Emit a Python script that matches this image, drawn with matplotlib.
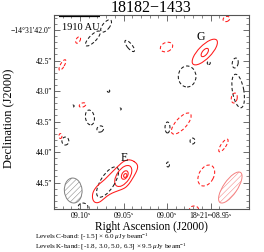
import numpy as np
import matplotlib
matplotlib.use("Agg")
import matplotlib.pyplot as plt
from matplotlib.patches import Ellipse

plt.rcParams['font.family'] = ['Liberation Serif', 'DejaVu Serif']
plt.rcParams['mathtext.fontset'] = 'custom'
plt.rcParams['mathtext.rm'] = 'Liberation Serif'
plt.rcParams['mathtext.it'] = 'Liberation Serif:italic'
plt.rcParams['hatch.linewidth'] = 0.35

# ---------------- data ----------------
title = "18182\u22121433"
dec_deg = -14.5256
ra_ticks_s = [9.10, 9.05, 9.00, 8.95]
ra_tick_labels = [r"09.10$^{\rm s}$", r"09.05$^{\rm s}$", r"09.00$^{\rm s}$",
                  r"18$^{\rm h}$21$^{\rm m}$08.95$^{\rm s}$"]
dec_ticks_off = [0.0, -0.5, -1.0, -1.5, -2.0, -2.5]   # arcsec offset from 42.0"
dec_tick_labels = ["\u221214\u00b031\u203242.0\u2033", "42.5\u2033", "43.0\u2033",
                   "43.5\u2033", "44.0\u2033", "44.5\u2033"]

# Ellipse-shaped contours: x, y (arcsec offsets), width, height, angle, band
# band "C" = C-band negative (-1.5 sigma, black dashed)
# band "Kn" = K-band negative (-1.8 sigma, red dashed), "Kp" = K-band positive (red solid)
ell_x = [0.434, 0.213, -0.033, 0.828, 1.443, 2.443, 2.082, 2.082, 2.148, 1.787,
         2.590, 2.639, 2.574, 1.689, 1.459, 1.877, 2.393, -0.295, 0.475, -0.115,
         0.041, 0.164, 0.336, -0.328, -0.246, 0.672, 0.721, 0.746, 0.754, 0.459,
         2.107, 1.467, 1.902, 0.049]
ell_y = [0.066, -0.139, -0.164, -0.262, -0.279, 0.180, -0.361, -0.369, -0.541, -0.762,
         -0.541, -1.000, -1.115, -1.533, -1.598, -1.820, -1.893, -0.574, -1.000, -1.246,
         -1.230, -1.434, -1.623, -1.738, -1.820, -1.295, -2.393, -2.377, -2.385, -2.492,
         -2.385, -2.205, -2.934, -2.902]
ell_w = [0.246, 0.328, 0.115, 0.230, 0.213, 0.115, 0.557, 0.164, 0.05, 0.295,
         0.164, 0.557, 0.164, 0.443, 0.082, 0.082, 0.246, 0.197, 0.04, 0.03,
         0.115, 0.148, 0.115, 0.05, 0.115, 0.03, 0.393, 0.150, 0.066, 0.574,
         0.369, 0.05, 0.148, 0.164]
ell_h = [0.115, 0.115, 0.066, 0.082, 0.148, 0.082, 0.213, 0.082, 0.05, 0.344,
         0.098, 0.190, 0.098, 0.180, 0.180, 0.098, 0.082, 0.066, 0.04, 0.03,
         0.066, 0.246, 0.098, 0.08, 0.131, 0.03, 0.213, 0.098, 0.05, 0.230,
         0.246, 0.08, 0.098, 0.131]
ell_ang = [50, 45, 60, -50, 20, 20, 45, 50, 0, 0,
           80, 100, 80, 47, 0, 0, 55, 60, 0, 0,
           20, 10, 30, 0, 0, 0, 55, 60, 60, 57,
           61, 0, 0, 0]
ell_band = ["C", "C", "Kn", "C", "Kn", "Kn", "Kp", "Kp", "C", "C",
            "C", "C", "Kn", "Kn", "C", "C", "Kn", "Kn", "C", "C",
            "Kn", "C", "C", "Kn", "C", "C", "Kp", "Kp", "Kp", "C",
            "Kn", "C", "Kn", "C"]

# Outer 3-sigma K-band contour of source E (arcsec offsets)
e_outer_x = [0.951, 0.841, 0.733, 0.623, 0.513, 0.405, 0.295, 0.213, 0.202, 0.241,
             0.323, 0.431, 0.541, 0.677, 0.787, 0.897, 0.967]
e_outer_y = [-2.185, -2.120, -2.143, -2.241, -2.349, -2.459, -2.541, -2.651, -2.759, -2.831,
             -2.831, -2.733, -2.667, -2.623, -2.569, -2.405, -2.267]

# Beams: x, y, width, height, angle
beam_c = (-0.115, -2.631, 0.295, 0.410, 5)
beam_k = (2.508, -2.582, 0.60, 0.23, 55)

labels_txt = ["G", "E"]
labels_x = [2.016, 0.738]
labels_y = [-0.115, -2.10]

scalebar_len = 0.69   # arcsec  (1910 AU)
scalebar_text = "1910 AU"

# ---------------- figure ----------------
fig = plt.figure(figsize=(2.64, 2.52), dpi=100)
ax = fig.add_axes([54/264, 1-209/252, 195/264, 194/252])

cosd = np.cos(np.radians(dec_deg))
xt = [(9.10 - r) * 15 * cosd for r in ra_ticks_s]

red = '#ff1a1a'
blk = '#1a1a1a'
dash = (0, (3.2, 2.2))
lw = 0.75

for x, y, w, h, a, b in zip(ell_x, ell_y, ell_w, ell_h, ell_ang, ell_band):
    if b == "C":
        e = Ellipse((x, y), w, h, angle=a, fill=False, ec=blk, lw=lw, ls=dash)
    elif b == "Kn":
        e = Ellipse((x, y), w, h, angle=a, fill=False, ec=red, lw=lw, ls=dash)
    else:
        e = Ellipse((x, y), w, h, angle=a, fill=False, ec=red, lw=lw, ls='-')
    ax.add_patch(e)

# smooth closed outline for E outer contour (Chaikin corner cutting)
px = np.array(e_outer_x); py = np.array(e_outer_y)
for _ in range(3):
    nx = np.roll(px, -1); ny = np.roll(py, -1)
    qx = 0.75*px + 0.25*nx; qy = 0.75*py + 0.25*ny
    rx = 0.25*px + 0.75*nx; ry = 0.25*py + 0.75*ny
    px = np.ravel(np.column_stack([qx, rx])); py = np.ravel(np.column_stack([qy, ry]))
ax.plot(np.append(px, px[0]), np.append(py, py[0]), color=red, lw=lw)

# beams
bx, by, bw, bh, ba = beam_c
ax.add_patch(Ellipse((bx, by), bw, bh, angle=ba, fc='white', ec='#808080', lw=0.7, hatch='//////'))
bx, by, bw, bh, ba = beam_k
ax.add_patch(Ellipse((bx, by), bw, bh, angle=ba, fc='white', ec='#f48080', lw=0.7, hatch='//////'))

for t, x, y in zip(labels_txt, labels_x, labels_y):
    ax.text(x, y, t, fontsize=8.5, ha='center', va='center', color='black')

# scale bar
ax.plot([-0.36, -0.36 + scalebar_len], [0.232, 0.232], color='black', lw=1.6, solid_capstyle='butt')
ax.text(-0.36 + scalebar_len/2 + 0.02, 0.04, scalebar_text, fontsize=7.5, ha='center', va='center')

ax.set_xlim(-0.377, 2.820)
ax.set_ylim(-2.934, 0.246)

ax.set_xticks(xt)
ax.set_xticklabels(ra_tick_labels, fontsize=5.5)
ax.set_yticks(dec_ticks_off)
ax.set_yticklabels(dec_tick_labels, fontsize=5.5)
ax.set_xticks([(9.10 - (9.13 - 0.01*i)) * 15 * cosd for i in range(20)], minor=True)
ax.set_yticks(np.arange(0.2, -3.0, -0.1), minor=True)
ax.tick_params(which='both', direction='in', top=True, right=True, color='#555555', pad=1.5)
ax.tick_params(axis='x', which='major', pad=1)
ax.tick_params(which='major', length=4, width=0.6)
ax.tick_params(which='minor', length=2, width=0.5)
for s in ax.spines.values():
    s.set_color('#555555'); s.set_linewidth(0.8)

fig.text(151.5/264, 1-7.5/252, title, fontsize=11.5, ha='center', va='center')
fig.text(151.5/264, 1-227/252, "Right Ascension (J2000)", fontsize=8.3, ha='center', va='center')
fig.text(8/264, 1-118/252, "Declination (J2000)", fontsize=9, ha='center', va='center', rotation=90)

fig.text(35/264, 1-237/252, r"Levels C-band: [-1.5] $\times$ 6.0 $\mu$Jy beam$^{-1}$", fontsize=5.1, va='center')
fig.text(35/264, 1-246.5/252, r"Levels K-band: [-1.8, 3.0, 5.0, 6.3] $\times$ 9.5 $\mu$Jy beam$^{-1}$", fontsize=5.1, va='center')

fig.savefig("out.png", dpi=100)
